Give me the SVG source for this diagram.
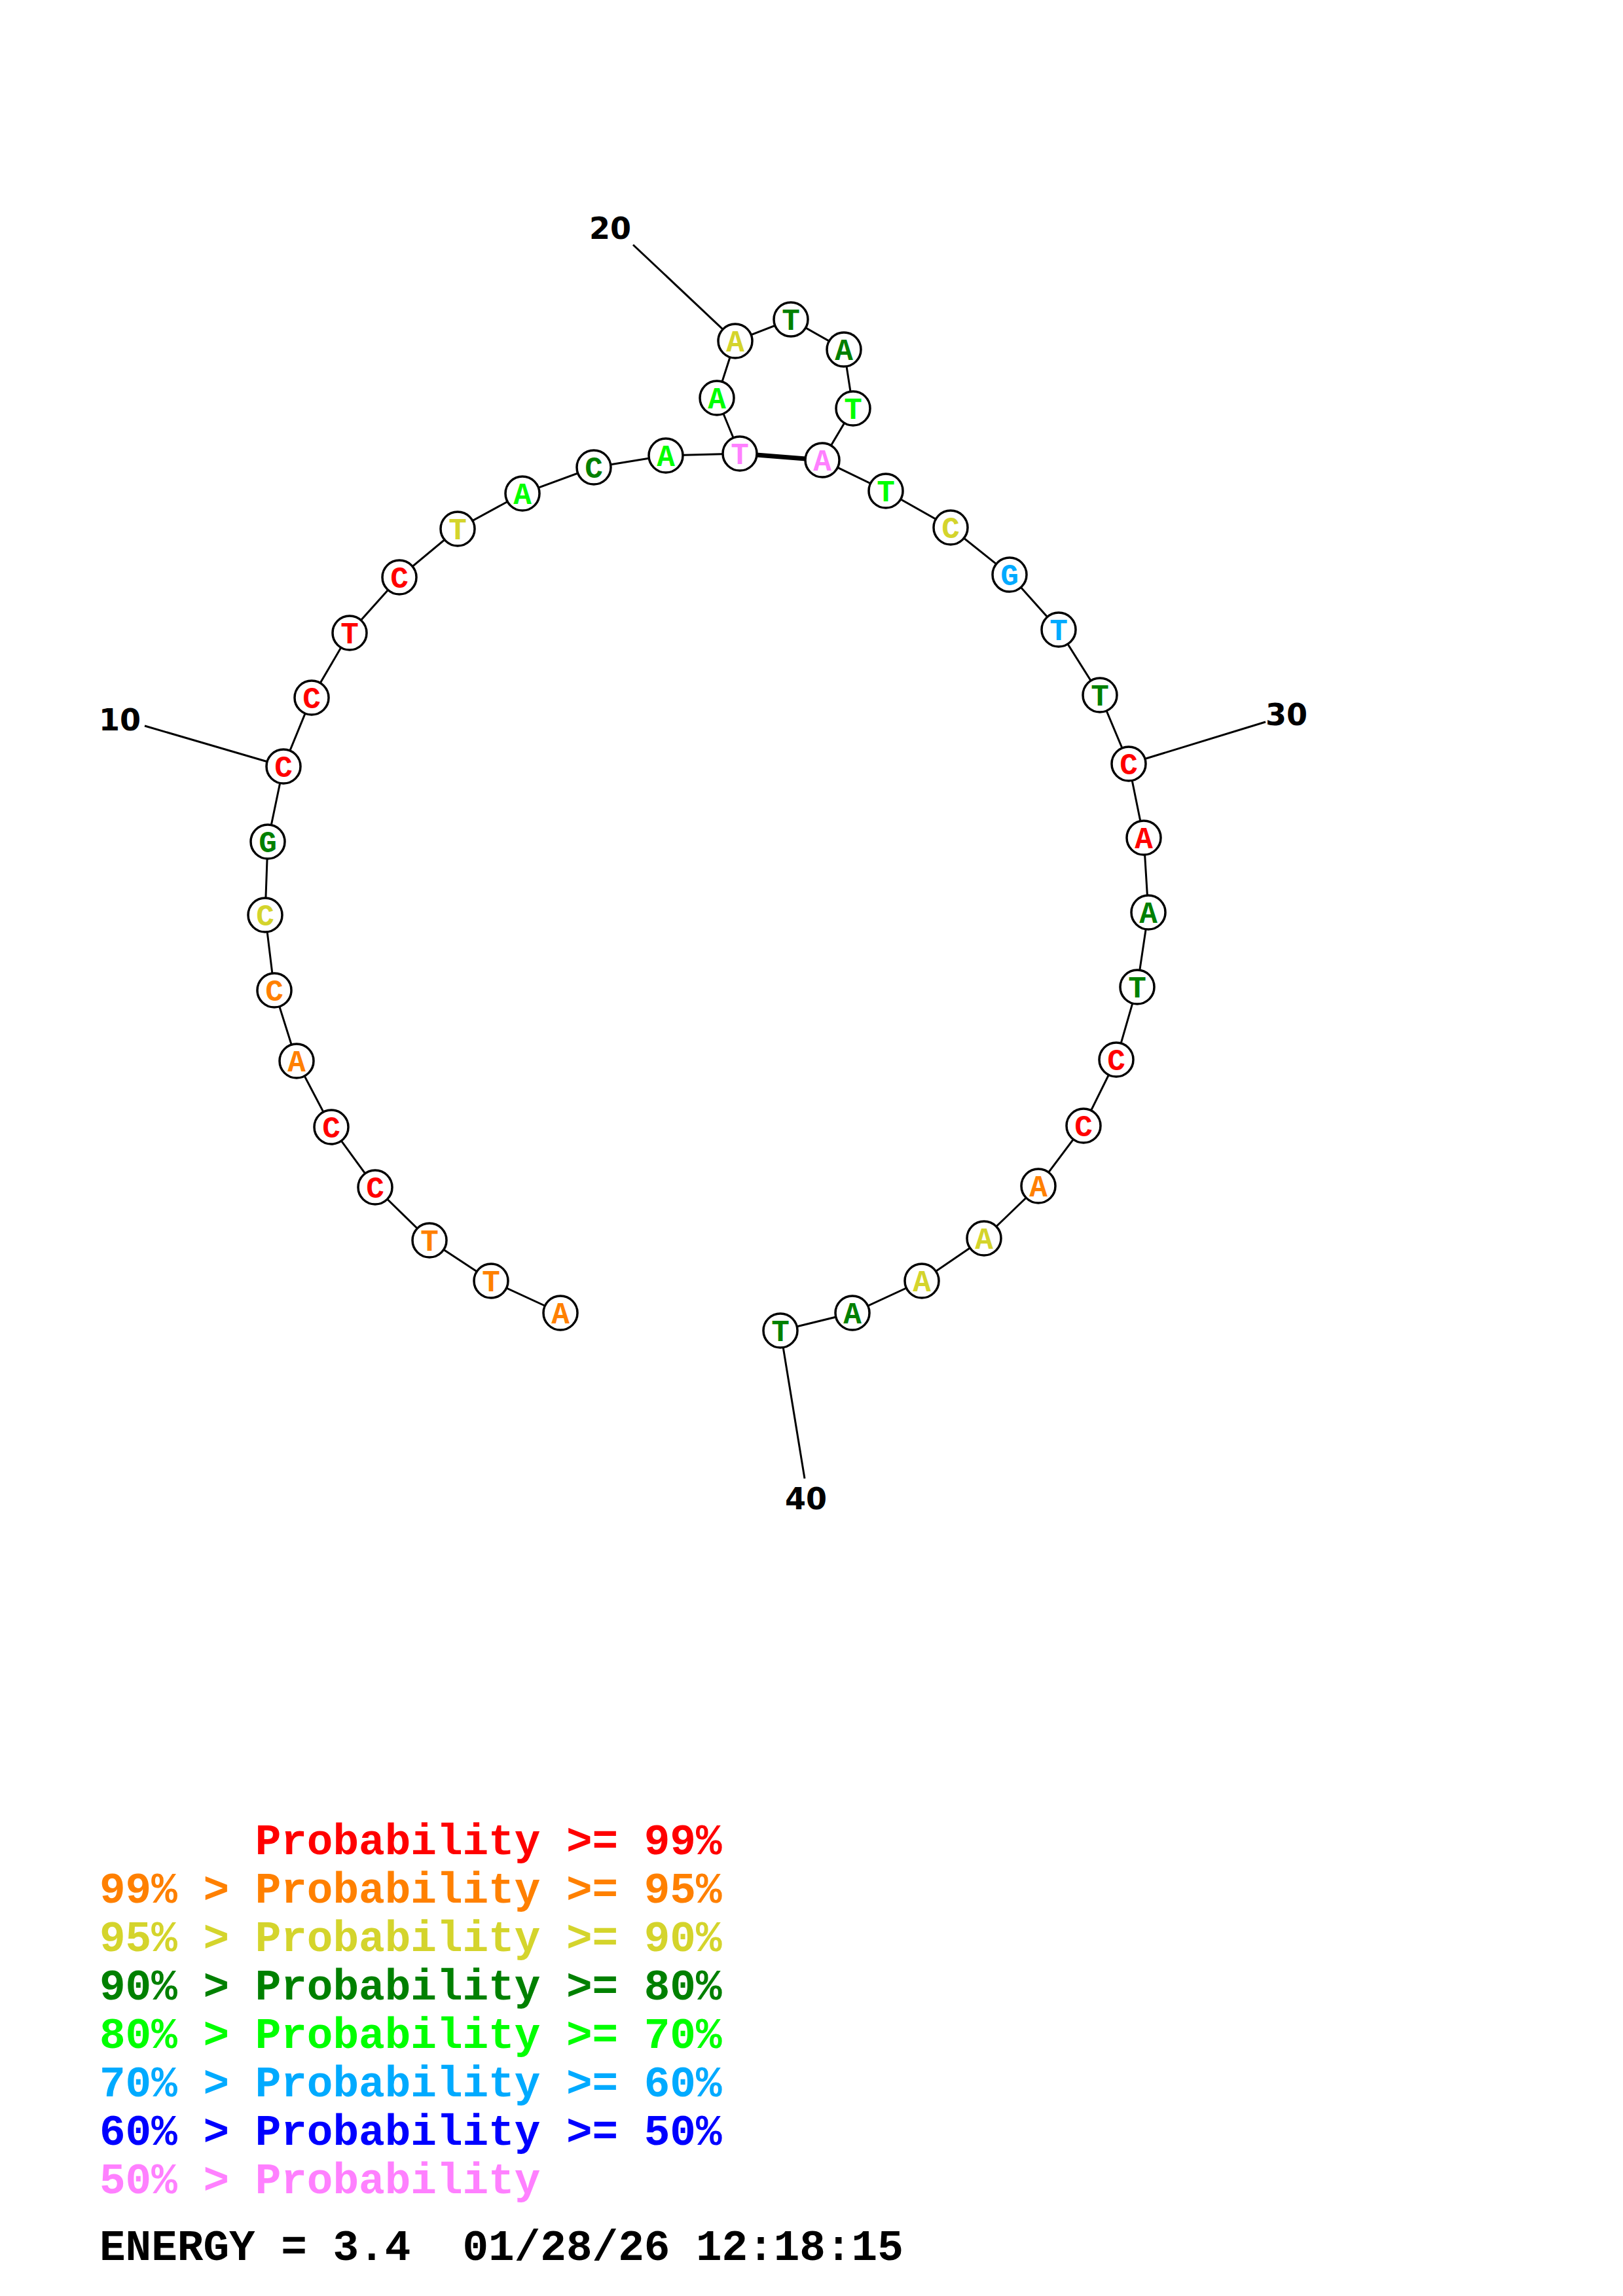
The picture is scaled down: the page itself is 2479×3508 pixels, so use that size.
<svg xmlns="http://www.w3.org/2000/svg" width="2479" height="3508" viewBox="0 0 2479 3508">
<style>
.bg{fill:#fff}
.bb{stroke:#000;stroke-width:3;fill:none}
.bp{stroke:#000;stroke-width:7;fill:none}
.tick{stroke:#000;stroke-width:3;fill:none}
circle{fill:#fff;stroke:#000;stroke-width:3.5}
.nt{font-family:"Liberation Mono","Courier New",monospace;font-weight:bold;font-size:46px;text-anchor:middle}
.num{font-family:"DejaVu Sans","Liberation Sans",sans-serif;font-weight:bold;font-size:46px;fill:#000}
.lg{font-family:"Liberation Mono","Courier New",monospace;font-weight:bold;font-size:66px;white-space:pre}
.r{fill:#FF0000}.o{fill:#FF8000}.y{fill:#D4D42C}.dg{fill:#008000}.g{fill:#00FF00}.lb{fill:#00AAFF}.b{fill:#0000FF}.p{fill:#FF80FF}.k{fill:#000}
</style>
<rect class="bg" x="0" y="0" width="2479" height="3508"/>
<g id="connectors">
<polyline class="bb" points="856,2006 750,1957 656,1895 573,1814 506,1722 453,1621 419,1513 405,1398 409,1286 433,1171 476,1066 534,967 610,882 699,808 798,754 907,714 1017,696 1130,693 1095,608 1123,521 1208,488 1289,534 1303,624 1256,703 1353,750 1452,806 1542,878 1617,962 1680,1062 1724,1167 1747,1280 1754,1394 1737,1508 1705,1619 1655,1720 1586,1812 1503,1892 1408,1957 1302,2006 1192,2033"/>
<line class="bp" x1="1130" y1="693" x2="1256" y2="703"/>
<line class="tick" x1="221" y1="1109" x2="433" y2="1171"/>
<line class="tick" x1="967" y1="374" x2="1123" y2="521"/>
<line class="tick" x1="1933" y1="1103" x2="1724" y2="1167"/>
<line class="tick" x1="1229" y1="2259" x2="1192" y2="2033"/>
</g>
<g id="n1"><circle cx="856" cy="2006" r="26"/><text class="nt o" x="856" y="2022">A</text></g>
<g id="n2"><circle cx="750" cy="1957" r="26"/><text class="nt o" x="750" y="1973">T</text></g>
<g id="n3"><circle cx="656" cy="1895" r="26"/><text class="nt o" x="656" y="1911">T</text></g>
<g id="n4"><circle cx="573" cy="1814" r="26"/><text class="nt r" x="573" y="1830">C</text></g>
<g id="n5"><circle cx="506" cy="1722" r="26"/><text class="nt r" x="506" y="1738">C</text></g>
<g id="n6"><circle cx="453" cy="1621" r="26"/><text class="nt o" x="453" y="1637">A</text></g>
<g id="n7"><circle cx="419" cy="1513" r="26"/><text class="nt o" x="419" y="1529">C</text></g>
<g id="n8"><circle cx="405" cy="1398" r="26"/><text class="nt y" x="405" y="1414">C</text></g>
<g id="n9"><circle cx="409" cy="1286" r="26"/><text class="nt dg" x="409" y="1302">G</text></g>
<g id="n10"><circle cx="433" cy="1171" r="26"/><text class="nt r" x="433" y="1187">C</text></g>
<g id="n11"><circle cx="476" cy="1066" r="26"/><text class="nt r" x="476" y="1082">C</text></g>
<g id="n12"><circle cx="534" cy="967" r="26"/><text class="nt r" x="534" y="983">T</text></g>
<g id="n13"><circle cx="610" cy="882" r="26"/><text class="nt r" x="610" y="898">C</text></g>
<g id="n14"><circle cx="699" cy="808" r="26"/><text class="nt y" x="699" y="824">T</text></g>
<g id="n15"><circle cx="798" cy="754" r="26"/><text class="nt g" x="798" y="770">A</text></g>
<g id="n16"><circle cx="907" cy="714" r="26"/><text class="nt dg" x="907" y="730">C</text></g>
<g id="n17"><circle cx="1017" cy="696" r="26"/><text class="nt g" x="1017" y="712">A</text></g>
<g id="n18"><circle cx="1130" cy="693" r="26"/><text class="nt p" x="1130" y="709">T</text></g>
<g id="n19"><circle cx="1095" cy="608" r="26"/><text class="nt g" x="1095" y="624">A</text></g>
<g id="n20"><circle cx="1123" cy="521" r="26"/><text class="nt y" x="1123" y="537">A</text></g>
<g id="n21"><circle cx="1208" cy="488" r="26"/><text class="nt dg" x="1208" y="504">T</text></g>
<g id="n22"><circle cx="1289" cy="534" r="26"/><text class="nt dg" x="1289" y="550">A</text></g>
<g id="n23"><circle cx="1303" cy="624" r="26"/><text class="nt g" x="1303" y="640">T</text></g>
<g id="n24"><circle cx="1256" cy="703" r="26"/><text class="nt p" x="1256" y="719">A</text></g>
<g id="n25"><circle cx="1353" cy="750" r="26"/><text class="nt g" x="1353" y="766">T</text></g>
<g id="n26"><circle cx="1452" cy="806" r="26"/><text class="nt y" x="1452" y="822">C</text></g>
<g id="n27"><circle cx="1542" cy="878" r="26"/><text class="nt lb" x="1542" y="894">G</text></g>
<g id="n28"><circle cx="1617" cy="962" r="26"/><text class="nt lb" x="1617" y="978">T</text></g>
<g id="n29"><circle cx="1680" cy="1062" r="26"/><text class="nt dg" x="1680" y="1078">T</text></g>
<g id="n30"><circle cx="1724" cy="1167" r="26"/><text class="nt r" x="1724" y="1183">C</text></g>
<g id="n31"><circle cx="1747" cy="1280" r="26"/><text class="nt r" x="1747" y="1296">A</text></g>
<g id="n32"><circle cx="1754" cy="1394" r="26"/><text class="nt dg" x="1754" y="1410">A</text></g>
<g id="n33"><circle cx="1737" cy="1508" r="26"/><text class="nt dg" x="1737" y="1524">T</text></g>
<g id="n34"><circle cx="1705" cy="1619" r="26"/><text class="nt r" x="1705" y="1635">C</text></g>
<g id="n35"><circle cx="1655" cy="1720" r="26"/><text class="nt r" x="1655" y="1736">C</text></g>
<g id="n36"><circle cx="1586" cy="1812" r="26"/><text class="nt o" x="1586" y="1828">A</text></g>
<g id="n37"><circle cx="1503" cy="1892" r="26"/><text class="nt y" x="1503" y="1908">A</text></g>
<g id="n38"><circle cx="1408" cy="1957" r="26"/><text class="nt y" x="1408" y="1973">A</text></g>
<g id="n39"><circle cx="1302" cy="2006" r="26"/><text class="nt dg" x="1302" y="2022">A</text></g>
<g id="n40"><circle cx="1192" cy="2033" r="26"/><text class="nt dg" x="1192" y="2049">T</text></g>
<g id="labels">
<text class="num" x="151" y="1116">10</text>
<text class="num" x="900" y="365">20</text>
<text class="num" x="1933" y="1108">30</text>
<text class="num" x="1199" y="2306">40</text>
</g>
<g id="legend">
<text class="lg r" x="152" y="2833">      Probability &gt;= 99%</text>
<text class="lg o" x="152" y="2907">99% &gt; Probability &gt;= 95%</text>
<text class="lg y" x="152" y="2981">95% &gt; Probability &gt;= 90%</text>
<text class="lg dg" x="152" y="3055">90% &gt; Probability &gt;= 80%</text>
<text class="lg g" x="152" y="3129">80% &gt; Probability &gt;= 70%</text>
<text class="lg lb" x="152" y="3203">70% &gt; Probability &gt;= 60%</text>
<text class="lg b" x="152" y="3277">60% &gt; Probability &gt;= 50%</text>
<text class="lg p" x="152" y="3351">50% &gt; Probability</text>
<text class="lg k" x="152" y="3453">ENERGY = 3.4  01/28/26 12:18:15</text>
</g>
</svg>
